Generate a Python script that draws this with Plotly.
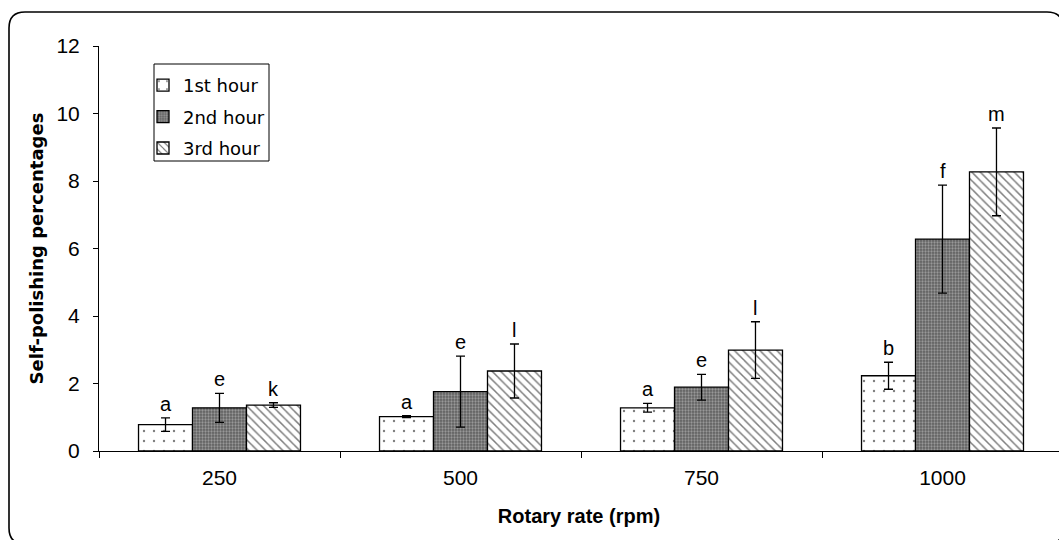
import plotly.graph_objects as go

categories = ["250", "500", "750", "1000"]
series_names = ["1st hour", "2nd hour", "3rd hour"]
hour1 = [0.78, 1.02, 1.28, 2.23]
hour1_err = [0.2, 0.03, 0.13, 0.4]
hour2 = [1.28, 1.76, 1.89, 6.28]
hour2_err = [0.43, 1.05, 0.38, 1.6]
hour3 = [1.36, 2.37, 2.99, 8.27]
hour3_err = [0.07, 0.8, 0.84, 1.3]
letters1 = ["a", "a", "a", "b"]
letters2 = ["e", "e", "e", "f"]
letters3 = ["k", "l", "l", "m"]

W, H = 1059, 540
ML, MR, MT, MB = 99, 0, 46, 89
PW, PH = W - ML - MR, H - MT - MB
FONT = "Liberation Sans, Arial, sans-serif"
WIDE = "DejaVu Sans, Liberation Sans, sans-serif"

styles = [
    dict(color="white", pattern=dict(shape=".", fgcolor="black", bgcolor="white", size=10, solidity=0.045)),
    dict(color="#707070", pattern=dict(shape=".", fgcolor="#cfcfcf", bgcolor="#606060", size=3, solidity=0.45)),
    dict(color="white", pattern=dict(shape="\\", fgcolor="black", bgcolor="white", size=6, solidity=0.25)),
]

fig = go.Figure()
data = [(hour1, hour1_err, letters1), (hour2, hour2_err, letters2), (hour3, hour3_err, letters3)]
for i, (vals, errs, lets) in enumerate(data):
    fig.add_trace(go.Bar(
        x=categories, y=vals, name=series_names[i], legendgroup=series_names[i],
        marker=dict(color=styles[i]["color"], pattern=styles[i]["pattern"],
                    line=dict(color="black", width=1.3)),
        error_y=dict(type="data", array=errs, visible=True, color="black", thickness=1.3, width=4.5),
        offsetgroup=str(i),
    ))

# letter annotations above error bars
ncat = len(categories)
group_frac = 1 - 0.328
bw = group_frac / 3
for i, (vals, errs, lets) in enumerate(data):
    for j in range(ncat):
        xpos = j - group_frac / 2 + bw * (i + 0.5)
        fig.add_annotation(x=xpos, y=vals[j] + errs[j], xref="x", yref="y",
                           text=lets[j], showarrow=False, yanchor="bottom",
                           yshift=1, font=dict(family=FONT, size=20, color="black"))

def px2paper(px, py):
    return (px - ML) / PW, (H - MB - py) / PH

# rounded outer frame
L, T, R, B, r = 9, 12, 1063, 544, 16
def P(px, py):
    x, y = px2paper(px, py)
    return f"{x:.5f},{y:.5f}"
path = (f"M {P(L, T + r)} Q {P(L, T)} {P(L + r, T)} L {P(R - r, T)} Q {P(R, T)} {P(R, T + r)} "
        f"L {P(R, B - r)} Q {P(R, B)} {P(R - r, B)} L {P(L + r, B)} Q {P(L, B)} {P(L, B - r)} Z")
fig.add_shape(type="path", path=path, xref="paper", yref="paper",
              line=dict(color="black", width=1.6), fillcolor="rgba(0,0,0,0)", layer="below")

# legend box border
bx0, by0 = px2paper(154, 64)
bx1, by1 = px2paper(269, 161)
fig.add_shape(type="rect", x0=bx0, y0=by1, x1=bx1, y1=by0, xref="paper", yref="paper",
              line=dict(color="black", width=1), fillcolor="white", layer="below")

lx, ly = px2paper(143, 67)
fig.update_layout(
    width=W, height=H,
    margin=dict(l=ML, r=MR, t=MT, b=MB),
    paper_bgcolor="white", plot_bgcolor="rgba(0,0,0,0)",
    barmode="group", bargap=0.328, bargroupgap=0,
    font=dict(family=FONT, size=19, color="black"),
    showlegend=True,
    legend=dict(x=lx, y=ly, xanchor="left", yanchor="top",
                borderwidth=0, bgcolor="rgba(0,0,0,0)",
                font=dict(family=WIDE, size=18, color="black"),
                tracegroupgap=5, itemwidth=30),
    xaxis=dict(type="category", range=[-0.5, 3.5 - 4 / 241], showline=True, linecolor="black",
               linewidth=1, ticks="outside", tickson="boundaries", ticklen=6,
               tickcolor="black", showgrid=False, tickfont=dict(size=21), ticklabelstandoff=8,
               title=dict(text="<b>Rotary rate (rpm)</b>", font=dict(size=20), standoff=20)),
    yaxis=dict(range=[0, 12], dtick=2, showline=True, linecolor="black", linewidth=1,
               ticks="outside", ticklen=5, tickcolor="black", showgrid=False,
               zeroline=False, tickfont=dict(size=21), ticklabelstandoff=9,
               title=dict(text="<b>Self-polishing percentages</b>",
                          font=dict(family=WIDE, size=18), standoff=8)),
)

fig.write_html("out.html")
